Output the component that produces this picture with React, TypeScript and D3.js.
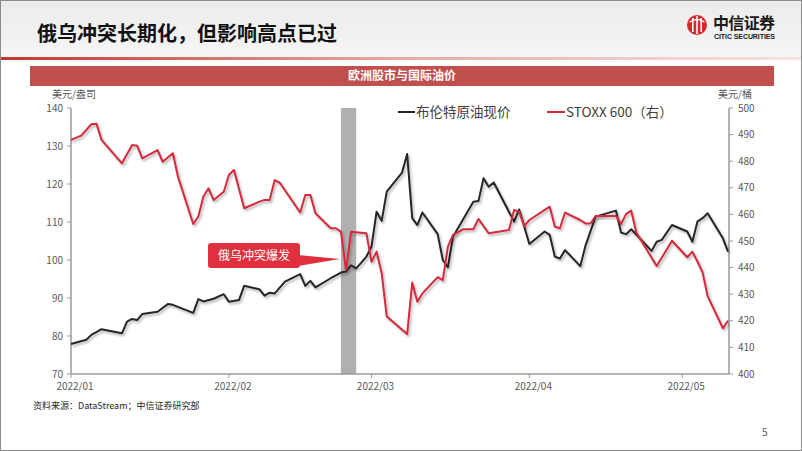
import React, { useEffect } from "react";
import * as d3 from "d3";

// ---------- data ----------
const brentDates = [
  "2022-01-01","2022-01-04","2022-01-05","2022-01-07","2022-01-11","2022-01-12","2022-01-13","2022-01-14","2022-01-15","2022-01-18",
  "2022-01-20","2022-01-21","2022-01-25","2022-01-26","2022-01-27","2022-01-29","2022-01-31","2022-02-01","2022-02-03","2022-02-04",
  "2022-02-07","2022-02-08","2022-02-09","2022-02-10","2022-02-12","2022-02-15","2022-02-16","2022-02-17","2022-02-18","2022-02-21",
  "2022-02-23","2022-02-24","2022-02-25","2022-02-26","2022-02-27","2022-02-28","2022-03-01","2022-03-02","2022-03-03","2022-03-04",
  "2022-03-07","2022-03-08","2022-03-09","2022-03-10","2022-03-11","2022-03-14","2022-03-15","2022-03-16","2022-03-17","2022-03-21",
  "2022-03-22","2022-03-23","2022-03-24","2022-03-25","2022-03-29","2022-03-30","2022-04-01","2022-04-04","2022-04-05","2022-04-06",
  "2022-04-07","2022-04-08","2022-04-11","2022-04-12","2022-04-14","2022-04-15","2022-04-18","2022-04-19","2022-04-20","2022-04-21",
  "2022-04-25","2022-04-26","2022-04-27","2022-04-29","2022-05-02","2022-05-03","2022-05-04","2022-05-05","2022-05-06","2022-05-09",
  "2022-05-10"
];
const brentValues = [
  77.9, 79.0, 80.3, 81.8, 80.7, 83.8, 84.5, 84.2, 85.8, 86.4,
  88.4, 88.2, 86.1, 89.7, 89.1, 89.8, 91.0, 89.0, 89.5, 93.2,
  92.3, 90.6, 91.4, 91.2, 94.3, 96.3, 93.2, 94.5, 92.8, 95.2,
  96.7, 97.0, 98.6, 97.8, 99.3, 100.9, 103.5, 112.7, 110.3, 118.0,
  123.0, 127.9, 111.0, 109.2, 112.5, 106.8, 100.0, 98.1, 106.1, 115.3,
  115.5, 121.5, 119.3, 120.4, 110.1, 113.3, 104.2, 107.5, 106.6, 100.9,
  100.4, 102.6, 98.4, 103.7, 111.4, 111.8, 113.0, 107.2, 106.8, 108.1,
  102.4, 104.8, 105.3, 109.2, 107.5, 104.8, 110.1, 111.0, 112.3, 105.7,
  102.2
];
const stoxxDates = [
  "2022-01-01","2022-01-03","2022-01-05","2022-01-06","2022-01-07","2022-01-11","2022-01-13","2022-01-14","2022-01-15","2022-01-18",
  "2022-01-19","2022-01-21","2022-01-22","2022-01-25","2022-01-26","2022-01-27","2022-01-28","2022-01-29","2022-01-31","2022-02-01",
  "2022-02-02","2022-02-04","2022-02-07","2022-02-08","2022-02-09","2022-02-10","2022-02-11","2022-02-15","2022-02-16","2022-02-17",
  "2022-02-18","2022-02-21","2022-02-22","2022-02-23","2022-02-24","2022-02-25","2022-02-28","2022-03-01","2022-03-02","2022-03-03",
  "2022-03-04","2022-03-08","2022-03-09","2022-03-10","2022-03-11","2022-03-14","2022-03-15","2022-03-16","2022-03-17","2022-03-19",
  "2022-03-21","2022-03-22","2022-03-24","2022-03-28","2022-03-29","2022-03-30","2022-03-31","2022-04-01","2022-04-05","2022-04-06",
  "2022-04-07","2022-04-08","2022-04-11","2022-04-12","2022-04-13","2022-04-14","2022-04-18","2022-04-19","2022-04-20","2022-04-21",
  "2022-04-22","2022-04-26","2022-04-29","2022-05-02","2022-05-03","2022-05-04","2022-05-05","2022-05-06","2022-05-09","2022-05-10"
];
const stoxxValues = [
  488.0, 489.6, 493.9, 494.1, 488.0, 479.2, 486.1, 485.8, 481.1, 484.2,
  479.8, 483.0, 474.2, 456.4, 459.2, 466.7, 469.8, 465.4, 468.5, 474.8,
  476.7, 462.3, 464.8, 465.4, 465.4, 472.9, 471.9, 460.7, 467.3, 467.3,
  460.4, 454.8, 454.8, 453.5, 439.0, 453.5, 452.9, 442.2, 446.0, 437.9,
  421.6, 415.0, 434.4, 427.2, 430.3, 436.4, 435.3, 447.9, 452.3, 454.4,
  454.4, 458.3, 452.9, 454.1, 461.7, 461.0, 455.6, 457.9, 462.9, 455.4,
  454.8, 460.7, 457.9, 456.6, 456.6, 459.4, 459.4, 456.4, 460.2, 461.4,
  453.2, 440.6, 450.1, 443.9, 446.0, 442.3, 438.2, 429.3, 417.2, 420.0
];
const leftTicks = [70, 80, 90, 100, 110, 120, 130, 140];
const rightTicks = [400, 410, 420, 430, 440, 450, 460, 470, 480, 490, 500];
const monthTicks = ["2022-01-01", "2022-02-01", "2022-03-01", "2022-04-01", "2022-05-01"];
const monthLabels = ["2022/01", "2022/02", "2022/03", "2022/04", "2022/05"];
const xDomain = ["2022-01-01", "2022-05-10"];
const shockBand = ["2022-02-23", "2022-02-26"];
const seriesNames = ["布伦特原油现价", "STOXX 600（右）"];

const CJK = "'Noto Sans CJK SC', 'Noto Sans', sans-serif";

export default function App() {
  useEffect(() => {
    document.body.style.margin = "0";
  }, []);

  const parse = d3.utcParse("%Y-%m-%d");
  const x = d3.scaleUtc().domain(xDomain.map((d) => parse(d)!)).range([71, 728]);
  const yL = d3.scaleLinear().domain([70, 140]).range([374, 108]);
  const yR = d3.scaleLinear().domain([400, 500]).range([374, 108]);

  const brent = brentDates.map((d, i) => ({ t: parse(d)!, v: brentValues[i] }));
  const stoxx = stoxxDates.map((d, i) => ({ t: parse(d)!, v: stoxxValues[i] }));

  const lineL = d3.line<{ t: Date; v: number }>().x((d) => x(d.t)).y((d) => yL(d.v));
  const lineR = d3.line<{ t: Date; v: number }>().x((d) => x(d.t)).y((d) => yR(d.v));

  const bx0 = x(parse(shockBand[0])!);
  const bx1 = x(parse(shockBand[1])!);

  const axisColor = "#9a9a9a";
  const labelColor = "#595959";

  return (
    <svg width={802} height={451} style={{ display: "block" }} xmlns="http://www.w3.org/2000/svg">
      <defs>
        <linearGradient id="hdrLine" x1="0" x2="1" y1="0" y2="0">
          <stop offset="0" stopColor="#c0392b" />
          <stop offset="0.5" stopColor="#e8a9a4" />
          <stop offset="1" stopColor="#f6e3e1" />
        </linearGradient>
        <linearGradient id="hdrBg" x1="0" x2="0" y1="0" y2="1">
          <stop offset="0" stopColor="#ececec" />
          <stop offset="1" stopColor="#f5f5f5" />
        </linearGradient>
        <filter id="shadow" x="-5%" y="-5%" width="110%" height="120%">
          <feDropShadow dx="1.5" dy="2" stdDeviation="1" floodColor="#000" floodOpacity="0.3" />
        </filter>
      </defs>

      <rect x={0} y={0} width={802} height={451} fill="#ffffff" />
      <rect x={0} y={0} width={802} height={58} fill="url(#hdrBg)" />
      <rect x={0} y={57} width={802} height={3} fill="url(#hdrLine)" />
      <rect x={0.5} y={0.5} width={801} height={450} fill="none" stroke="#8c8c8c" strokeWidth={1} />

      {/* title */}
      <text x={37} y={41} fontFamily={CJK} fontWeight={700} fontSize={20} fill="#111">
        俄乌冲突长期化，但影响高点已过
      </text>

      {/* logo */}
      <g>
        <circle cx={697} cy={25} r={10} fill="#d42a2a" />
        <rect x={692} y={18} width={1.6} height={14} fill="#fff" />
        <rect x={696.2} y={16} width={1.6} height={18} fill="#fff" />
        <rect x={700.4} y={18} width={1.6} height={14} fill="#fff" />
        <path d="M689.5,22 Q697,17 704.5,22" stroke="#fff" strokeWidth={1.3} fill="none" />
        <text x={713} y={29} fontFamily={CJK} fontWeight={700} fontSize={16} fill="#1a1a1a" textLength={62}>
          中信证券
        </text>
        <text x={714} y={39} fontFamily="'Liberation Sans', Arial, sans-serif" fontWeight={700} fontSize={7} fill="#1a1a1a" textLength={61}>
          CITIC SECURITIES
        </text>
      </g>

      {/* chart title bar */}
      <rect x={30} y={66} width={744} height={20} fill="#c0504d" />
      <text x={402} y={80} textAnchor="middle" fontFamily={CJK} fontWeight={700} fontSize={12} fill="#fff">
        欧洲股市与国际油价
      </text>

      {/* unit labels */}
      <text x={52} y={98} fontFamily={CJK} fontSize={10} fill={labelColor}>美元/盎司</text>
      <text x={752} y={98} textAnchor="end" fontFamily={CJK} fontSize={10} fill={labelColor}>美元/桶</text>

      {/* shock band */}
      <rect x={bx0} y={108} width={bx1 - bx0} height={266} fill="#b0b0b0" />

      {/* axes */}
      <line x1={71} x2={71} y1={108} y2={374} stroke={axisColor} strokeWidth={1.5} />
      <line x1={729} x2={729} y1={108} y2={374} stroke={axisColor} strokeWidth={1.5} />
      <line x1={71} x2={729} y1={374} y2={374} stroke={axisColor} strokeWidth={1.5} />
      {leftTicks.map((t) => (
        <g key={"l" + t}>
          <line x1={67} x2={71} y1={yL(t)} y2={yL(t)} stroke={axisColor} strokeWidth={1} />
          <text x={63} y={yL(t) + 3.5} textAnchor="end" fontFamily={CJK} fontSize={10} fill={labelColor}>{t}</text>
        </g>
      ))}
      {rightTicks.map((t) => (
        <g key={"r" + t}>
          <line x1={729} x2={733} y1={yR(t)} y2={yR(t)} stroke={axisColor} strokeWidth={1} />
          <text x={738} y={yR(t) + 3.5} fontFamily={CJK} fontSize={10} fill={labelColor}>{t}</text>
        </g>
      ))}
      {monthTicks.map((m, i) => {
        const px = x(parse(m)!);
        return (
          <g key={m}>
            <line x1={px} x2={px} y1={374} y2={378} stroke={axisColor} strokeWidth={1} />
            <text x={px + 4} y={390} textAnchor="middle" fontFamily={CJK} fontSize={10} fill={labelColor}>{monthLabels[i]}</text>
          </g>
        );
      })}

      {/* series */}
      <path d={lineL(brent) || ""} fill="none" stroke="#262626" strokeWidth={2} strokeLinejoin="round" filter="url(#shadow)" />
      <path d={lineR(stoxx) || ""} fill="none" stroke="#d42a3c" strokeWidth={2} strokeLinejoin="round" filter="url(#shadow)" />

      {/* legend */}
      <line x1={398} x2={415} y1={112} y2={112} stroke="#262626" strokeWidth={2} />
      <text x={416} y={117} fontFamily={CJK} fontSize={13.5} fill="#404040">{seriesNames[0]}</text>
      <line x1={547} x2={565} y1={112} y2={112} stroke="#d42a3c" strokeWidth={2} />
      <text x={566} y={117} fontFamily={CJK} fontSize={13.5} fill="#404040">{seriesNames[1]}</text>

      {/* annotation */}
      <polygon points={`298,255 ${bx0 - 1},259 298,266`} fill="#e0303e" />
      <rect x={208} y={243} width={92} height={25} rx={3} fill="#e0303e" />
      <text x={254} y={260} textAnchor="middle" fontFamily={CJK} fontSize={12} fill="#fff">俄乌冲突爆发</text>

      {/* source + page */}
      <text x={33} y={409} fontFamily={CJK} fontSize={9} fill="#262626">资料来源：DataStream；中信证券研究部</text>
      <text x={762} y={436} fontFamily={CJK} fontSize={10} fill="#595959">5</text>
    </svg>
  );
}
